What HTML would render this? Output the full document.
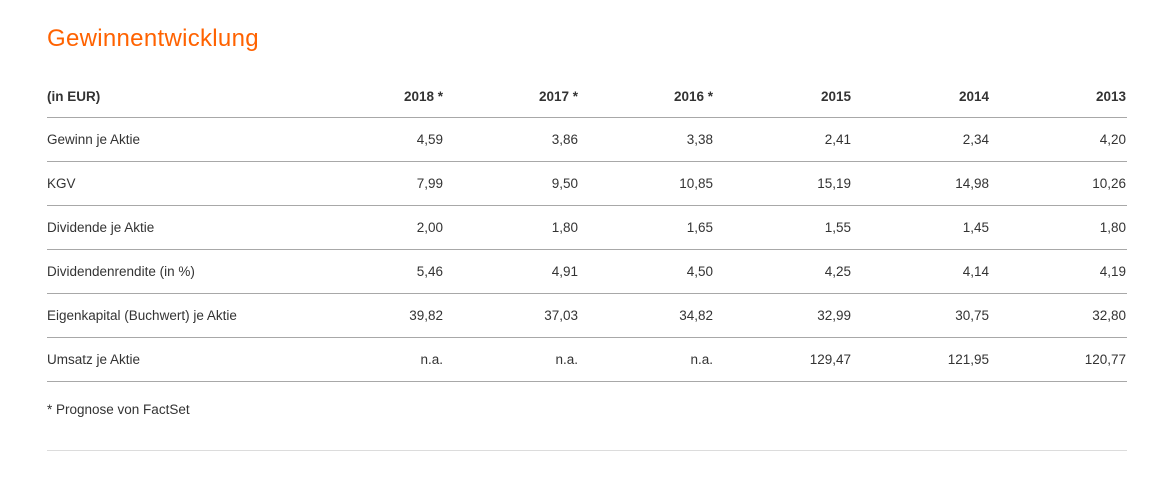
<!DOCTYPE html>
<html><head><meta charset="utf-8"><style>
body{margin:0;width:1163px;height:477px;background:#fff;font-family:"Liberation Sans",sans-serif;color:#333;position:relative;overflow:hidden}
.t{position:absolute;left:47px;top:25px;font-size:24px;color:#ff6200;letter-spacing:0.3px}
.c{position:absolute;font-size:13.5px;white-space:nowrap;line-height:16px}
.r{text-align:right}
.b{font-weight:bold}
.l{position:absolute;left:47px;width:1080px;height:1px;background:#a8a8a8}
</style></head><body>
<div class="t">Gewinnentwicklung</div>
<div id="g"></div>
<script>
var rows=[["(in EUR)","2018 *","2017 *","2016 *","2015","2014","2013"],
["Gewinn je Aktie","4,59","3,86","3,38","2,41","2,34","4,20"],
["KGV","7,99","9,50","10,85","15,19","14,98","10,26"],
["Dividende je Aktie","2,00","1,80","1,65","1,55","1,45","1,80"],
["Dividendenrendite (in %)","5,46","4,91","4,50","4,25","4,14","4,19"],
["Eigenkapital (Buchwert) je Aktie","39,82","37,03","34,82","32,99","30,75","32,80"],
["Umsatz je Aktie","n.a.","n.a.","n.a.","129,47","121,95","120,77"]];
var rx=[443,578,713,851,989,1126],h="";
rows.forEach(function(r,i){var y=(i==0?96:139+(i-1)*44)-7;var bc=i==0?" b":"";
h+='<div class="c'+bc+'" style="left:47px;top:'+y+'px">'+r[0]+'</div>';
for(var j=1;j<7;j++)h+='<div class="c r'+bc+'" style="right:'+(1163-rx[j-1])+'px;top:'+y+'px">'+r[j]+'</div>';
h+='<div class="l" style="top:'+(117+i*44)+'px"></div>';});
h+='<div class="c" style="left:47px;top:402px">* Prognose von FactSet</div>';
h+='<div class="l" style="top:450px;background:#dcdcdc"></div>';
document.getElementById("g").innerHTML=h;
</script>
</body></html>
